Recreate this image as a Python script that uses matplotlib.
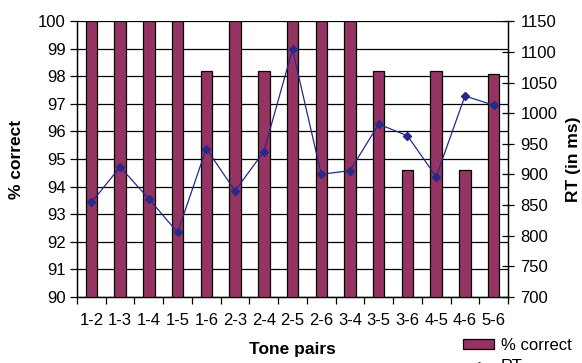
import matplotlib
matplotlib.use("Agg")
import matplotlib.pyplot as plt
import numpy as np
from matplotlib.patches import Patch
from matplotlib.lines import Line2D

plt.rcParams['font.family'] = ['Liberation Sans', 'DejaVu Sans']

# data
pairs = ['1-2', '1-3', '1-4', '1-5', '1-6', '2-3', '2-4', '2-5',
         '2-6', '3-4', '3-5', '3-6', '4-5', '4-6', '5-6']
pct_correct = [100, 100, 100, 100, 98.2, 100, 98.2, 100,
               100, 100, 98.2, 94.6, 98.2, 94.6, 98.1]
rt_ms = [854, 912, 860, 805, 942, 873, 937, 1104,
         900, 906, 982, 963, 896, 1028, 1013]

bar_color = '#953462'
line_color = '#28288a'

fig = plt.figure(figsize=(5.82, 3.63), dpi=100)
ax = fig.add_axes([0.1323, 0.1826, 0.8729 - 0.1323, 0.9413 - 0.1826])
ax2 = ax.twinx()

x = np.arange(len(pairs))
ax.bar(x, pct_correct, width=0.40, color=bar_color, edgecolor='black',
       linewidth=0.9, zorder=3)
ax.set_ylim(90, 100)
ax.set_xlim(-0.5, len(pairs) - 0.5)
ax.set_yticks(np.arange(90, 101, 1))
ax.yaxis.grid(True, color='black', linewidth=0.9, zorder=0)
ax.set_axisbelow(True)

# category labels centred, tick marks on the boundaries
ax.set_xticks(x)
ax.set_xticklabels(pairs)
ax.set_xticks(np.arange(-0.5, len(pairs), 1), minor=True)
ax.tick_params(axis='x', which='major', length=0, pad=12, labelsize=12)
ax.tick_params(axis='x', which='minor', length=5, width=0.9, direction='out')
ax.tick_params(axis='y', length=5, width=0.9, pad=3, labelsize=12)

ax2.plot(x, rt_ms, color=line_color, linewidth=0.9, marker='D',
         markersize=4.5, markerfacecolor=line_color, markeredgecolor=line_color)
ax2.set_ylim(700, 1150)
ax2.set_yticks(np.arange(700, 1151, 50))
ax2.tick_params(axis='y', direction='inout', length=8, width=0.9, pad=5,
                labelsize=12)

for a in (ax, ax2):
    a.spines['top'].set_visible(False)
    a.spines['left'].set_linewidth(0.9)
    a.spines['right'].set_linewidth(0.9)
    a.spines['bottom'].set_linewidth(0.9)

ax.set_xlabel('Tone pairs', fontsize=12.5, fontweight='bold', labelpad=10)
ax.set_ylabel('% correct', fontsize=12.5, fontweight='bold', labelpad=10)
ax2.set_ylabel('RT (in ms)', fontsize=12.5, fontweight='bold', labelpad=6)

handles = [Patch(facecolor=bar_color, edgecolor='black', linewidth=0.9),
           Line2D([], [], color=line_color, marker='D', markersize=4.5,
                  linewidth=0.9)]
fig.legend(handles, ['% correct', 'RT'], loc='upper left',
           bbox_to_anchor=(0.795, 0.068), frameon=False, fontsize=12,
           handlelength=1.9, handleheight=0.55, handletextpad=0.4,
           labelspacing=0.35, borderpad=0, borderaxespad=0)

fig.savefig('out.png', dpi=100)
